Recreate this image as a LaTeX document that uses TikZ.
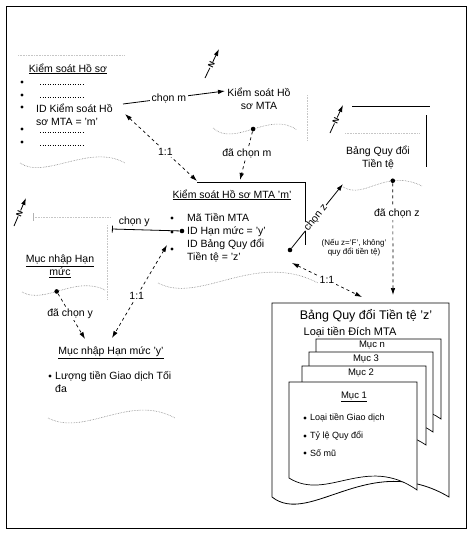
\documentclass[tikz,border=0pt]{standalone}
\usepackage{fontspec}
\setmainfont{Liberation Sans}
\usetikzlibrary{arrows.meta}
\newcommand{\recfont}{\fontsize{10.5}{13}\selectfont}
\newcommand{\subfont}{\fontsize{11}{13}\selectfont}
\newcommand{\pgfont}{\fontsize{9.5}{11}\selectfont}
\newcommand{\itfont}{\fontsize{9}{11}\selectfont}
\newcommand{\notefont}{\fontsize{8}{9.5}\selectfont}
\newcommand{\tblfont}{\fontsize{12.5}{15}\selectfont}
\newcommand{\bulr}{1.7pt}
\newcommand{\bul}[2]{\fill (#1,#2) circle[radius=\bulr];}
\newcommand{\dotrow}[3]{
  \draw[dash pattern=on 0.9pt off 1.6pt,line width=0.9pt] (#1,#3) -- (#2,#3);
}
% one sheet of the stack: left, top, width, left depth, right depth, wave
\newcommand{\sheet}[6]{
  \draw[fill=white,line width=0.7pt] (#1,#2+#4) -- (#1,#2) -- (#1+#3,#2)
    -- (#1+#3,#2+#5) .. controls (#1+0.6*#3,#2+#4-#6)
    and (#1+0.3*#3,#2+#4+#6) .. (#1,#2+#4) -- cycle;
}

\begin{document}
\begin{tikzpicture}[x=1pt,y=-1pt,
    every node/.style={font=\recfont,inner sep=1pt},
    >={Latex[length=7pt,width=4.5pt]},
    lbl/.style={fill=white,inner sep=1.5pt},
    lnk/.style={dashed,<->,line width=0.7pt},
    pick/.style={dashed,->,line width=0.7pt},
    wave/.style={gray,densely dotted,line width=0.6pt},
    faint/.style={gray!45,densely dotted,line width=0.6pt},
    nmark/.style={->,line width=0.8pt},
    dot/.style={circle,fill=black,inner sep=0pt,minimum size=4.6pt}]
  \useasboundingbox (0,0) rectangle (474,536);
  % frame
  \draw[line width=1pt] (6,6) rectangle (466,528);

  % record part: Kiem soat Ho so
  \draw[faint] (18,55) -- (125,55);
  \node (hoso) at (68,69) {\underline{Kiểm soát Hồ sơ}};
  \foreach \yy in {82,95,107,129,142} {\bul{22}{\yy}}
  \dotrow{40}{83}{84}
  \dotrow{40}{83}{97}
  \dotrow{40}{83}{132}
  \dotrow{40}{83}{145}
  \node[anchor=west,align=left] (hosoId) at (35,115) {ID Kiểm soát Hồ\\sơ MTA = 'm'};
  \draw[wave] (20,163) .. controls (45,180) and (90,143) .. (125,163);
  \coordinate (hosoOut) at (123,104);
  \coordinate (hosoLink) at (125,114);

  % record part: Kiem soat Ho so MTA
  \node[align=center] (hosoMta) at (259,99) {Kiểm soát Hồ\\sơ MTA};
  \draw[faint] (307,95) -- (307,140);
  \draw[wave] (213,128) .. controls (235,148) and (270,110)
    .. node[dot,pos=0.5] (hosoMtaDot) {} (297,130);
  \coordinate (hosoMtaIn) at (225,91);

  % N marks
  \coordinate (nTail1) at (205,78);  \coordinate (nTip1) at (219,49);
  \coordinate (nTail2) at (330,133); \coordinate (nTip2) at (343,105);
  \coordinate (nTail3) at (14,226);  \coordinate (nTip3) at (26,198);
  \foreach \k in {1,2,3}
    \draw[nmark] (nTail\k) -- node[lbl,sloped,pos=0.45,inner sep=0.3pt,
      font=\notefont\bfseries] (nLbl\k) {N} (nTip\k);

  % record part: Kiem soat Ho so MTA 'm'
  \draw[line width=0.8pt] (197,182) -- (305,182) -- (305,245);
  \node (hosoM) at (232,195) {\underline{Kiểm soát Hồ sơ MTA 'm'}};
  \bul{172}{218}
  \bul{172}{232}
  \bul{172}{249}
  \node[dot] (hosoMDotY) at (182,231) {};
  \node[anchor=west,align=left] (hosoMList) at (186,238)
    {Mã Tiền MTA\\ID Hạn mức = 'y'\\ID Bảng Quy đổi\\Tiền tệ = 'z'};
  \draw[wave] (158,283) .. controls (200,305) and (255,250) .. (318,283);
  \node[dot] (hosoMDotZ) at (290,250) {};
  \coordinate (hosoMTopA) at (197,181);
  \coordinate (hosoMTopB) at (240,180);
  \coordinate (hosoMLow) at (167,245);
  \coordinate (hosoMRight) at (292,263);

  % record part: Muc nhap Han muc
  \draw[faint] (33,217) -- (110,217);
  \draw[gray!60,line width=0.6pt] (33,213) -- (33,221);
  \draw[faint] (107,225) -- (107,300);
  \node[align=center] (hanMuc) at (60,266) {\underline{Mục nhập Hạn}\\\underline{mức}};
  \draw[wave] (22,292) .. controls (45,305) and (75,275)
    .. node[dot,pos=0.45] (hanMucDot) {} (105,290);
  \coordinate (hanMucEnd) at (112,229);

  % record part: Muc nhap Han muc 'y'
  \node (hanMucY) at (111,353) {\underline{Mục nhập Hạn mức 'y'}};
  \bul{50}{376}
  \node[anchor=west,align=left] (hanMucYList) at (54,382) {Lượng tiền Giao dịch Tối\\đa};
  \draw[wave] (48,418) .. controls (85,437) and (130,393) .. (175,418);
  \coordinate (hanMucYTopA) at (85,339);
  \coordinate (hanMucYTopB) at (112,338);

  % record part: Bang Quy doi Tien te
  \draw[line width=0.8pt] (352,106) -- (430,106);
  \draw[line width=0.8pt] (426,115) -- (426,167);
  \draw[faint] (345,133) -- (420,133);
  \node[align=center] (bangQd) at (378,158) {Bảng Quy đổi\\Tiền tệ};
  \draw[wave] (343,187) .. controls (365,200) and (385,168)
    .. node[dot,pos=0.7] (bangQdDot) {} (422,186);
  \coordinate (bangQdIn) at (343,184);

  % big table
  \draw[line width=0.8pt] (272,497) -- (272,303) -- (449,303) -- (449,497)
    .. controls (370,450) and (310,527) .. (272,497) -- cycle;
  \node[font=\tblfont] (bangZ) at (366,316) {Bảng Quy đổi Tiền tệ 'z'};
  \node[font=\subfont] (bangZSub) at (350,332) {Loại tiền Đích MTA};
  \sheet{316}{339}{125}{70}{80}{24}
  \node[font=\pgfont] (mucN) at (372,345) {Mục n};
  \sheet{309}{352}{124}{70}{80}{24}
  \node[font=\pgfont] (muc3) at (366,359) {Mục 3};
  \sheet{302}{366}{124}{70}{79}{24}
  \node[font=\pgfont] (muc2) at (361,373) {Mục 2};
  \sheet{289}{382}{128}{96}{108}{24}
  \node[font=\pgfont] (muc1) at (354,397) {\underline{Mục 1}};
  \foreach \yy/\tx in {418/Loại tiền Giao dịch,436/Tỷ lệ Quy đổi,453/Số mũ} {
    \bul{305}{\yy}
    \node[font=\itfont,anchor=west] (item\yy) at (309,\yy) {\tx};
  }
  \coordinate (bangZTop) at (393,295);
  \coordinate (bangZCorner) at (362,297);

  % links
  \draw[line width=0.8pt,->] (hosoOut) -- node[lbl,pos=0.45] (chonM) {chọn m} (hosoMtaIn);
  \draw[lnk] (hosoLink) -- node[lbl,pos=0.56] (oneA) {1:1} (hosoMTopA);
  \draw[pick] (hosoMtaDot) -- node[lbl,pos=0.45] (daChonM) {đã chọn m} (hosoMTopB);
  \draw[line width=0.8pt,{Bar[width=7pt]}-] (hanMucEnd)
    -- node[pos=0.33,above=2pt] (chonY) {chọn y} (hosoMDotY);
  \draw[lnk] (hosoMLow) -- node[lbl,pos=0.55] (oneB) {1:1} (hanMucYTopB);
  \draw[pick] (hanMucDot) -- node[lbl,pos=0.45] (daChonY) {đã chọn y} (hanMucYTopA);
  \draw[line width=0.8pt,->] (hosoMDotZ)
    -- node[lbl,sloped,pos=0.47,inner sep=0.8pt] (chonZ) {chọn z} (bangQdIn);
  \draw[pick] (bangQdDot) -- node[lbl,pos=0.27,xshift=4pt] (daChonZ) {đã chọn z} (bangZTop);
  \node[font=\notefont,align=center] (ghiChu) at (354,248)
    {(Nếu z='F', không'\\quy đổi tiền tệ)};
  \draw[lnk] (hosoMRight) -- node[lbl] (oneC) {1:1} (bangZCorner);
\end{tikzpicture}
\end{document}
